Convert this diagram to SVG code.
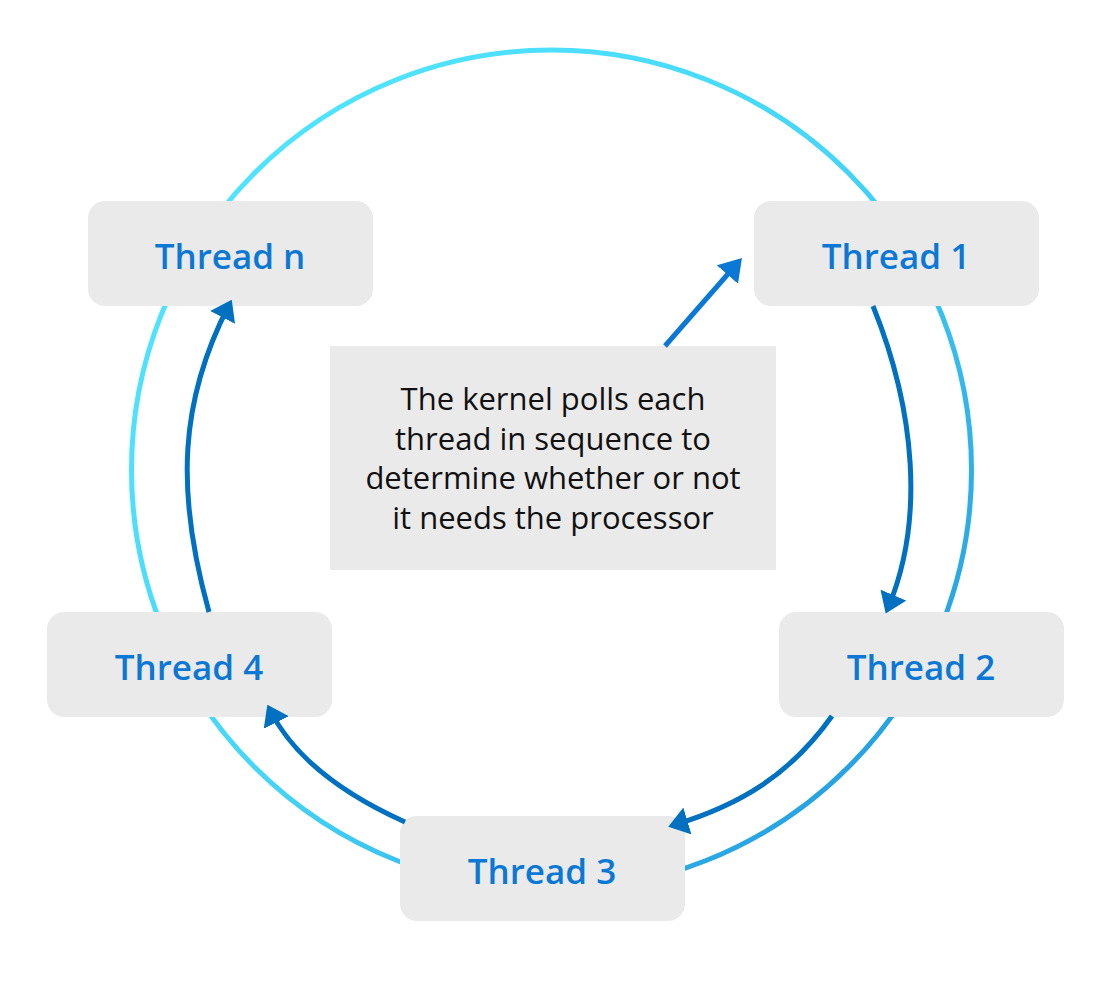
<svg xmlns="http://www.w3.org/2000/svg" width="1095" height="996" viewBox="0 0 1095 996">
  <defs>
    <linearGradient id="ring" gradientUnits="userSpaceOnUse" x1="250" y1="200" x2="900" y2="800">
      <stop offset="0" stop-color="#50E3FF"/>
      <stop offset="0.45" stop-color="#45D6F8"/>
      <stop offset="1" stop-color="#239CDF"/>
    </linearGradient>
    <marker id="ah" markerUnits="userSpaceOnUse" markerWidth="20" markerHeight="28" viewBox="0 0 20 28" refX="14" refY="14" orient="auto">
      <path d="M0,0 L20,14 L0,28 z" fill="#0070C0"/>
    </marker>
    <marker id="ah2" markerUnits="userSpaceOnUse" markerWidth="22" markerHeight="28" viewBox="0 0 22 28" refX="16" refY="14" orient="auto">
      <path d="M0,0 L22,14 L0,28 z" fill="#0A78D4"/>
    </marker>
  </defs>
  <style>
    .box { fill: #EAEAEA; }
    .lbl { font-family: "Open Sans", "Noto Sans", "Liberation Sans", sans-serif; font-weight: 600; font-size: 35px; fill: #0A78D4; text-anchor: middle; }
    .note { font-family: "Open Sans", "Noto Sans", "Liberation Sans", sans-serif; font-size: 31px; fill: #111111; text-anchor: middle; }
    .conn { fill: none; stroke: #0070C0; stroke-width: 5; }
  </style>
  <rect width="1095" height="996" fill="#FFFFFF"/>
  <circle cx="551.5" cy="470" r="420" fill="none" stroke="url(#ring)" stroke-width="5"/>

  <g id="note">
    <rect class="box" x="330" y="346" width="446" height="224"/>
    <text class="note" x="553" y="410">The kernel polls each</text>
    <text class="note" x="553" y="450">thread in sequence to</text>
    <text class="note" x="553" y="489">determine whether or not</text>
    <text class="note" x="553" y="529">it needs the processor</text>
  </g>
  <g id="thread-n">
    <rect class="box" x="88" y="201" width="285" height="105" rx="17"/>
    <text class="lbl" x="230" y="269">Thread n</text>
  </g>
  <g id="thread-1">
    <rect class="box" x="754" y="201" width="285" height="105" rx="17"/>
    <text class="lbl" x="896" y="269">Thread 1</text>
  </g>
  <g id="thread-2">
    <rect class="box" x="779" y="612" width="285" height="105" rx="17"/>
    <text class="lbl" x="921" y="680">Thread 2</text>
  </g>
  <g id="thread-4">
    <rect class="box" x="47" y="612" width="285" height="105" rx="17"/>
    <text class="lbl" x="189" y="680">Thread 4</text>
  </g>
  <g id="thread-3">
    <rect class="box" x="400" y="816" width="285" height="105" rx="17"/>
    <text class="lbl" x="542" y="884">Thread 3</text>
  </g>

  <g id="connectors">
    <path class="conn" style="stroke:#0A78D4" d="M665,346 L738,262.5" marker-end="url(#ah2)"/>
    <path class="conn" d="M873,306 C915,410 925,520 888,608" marker-end="url(#ah)"/>
    <path class="conn" d="M832,716 C790,775 740,805 674,825" marker-end="url(#ah)"/>
    <path class="conn" d="M405,822 C345,795 295,760 270,710" marker-end="url(#ah)"/>
    <path class="conn" d="M209,612 C175,490 180,400 229,305" marker-end="url(#ah)"/>
  </g>
</svg>
